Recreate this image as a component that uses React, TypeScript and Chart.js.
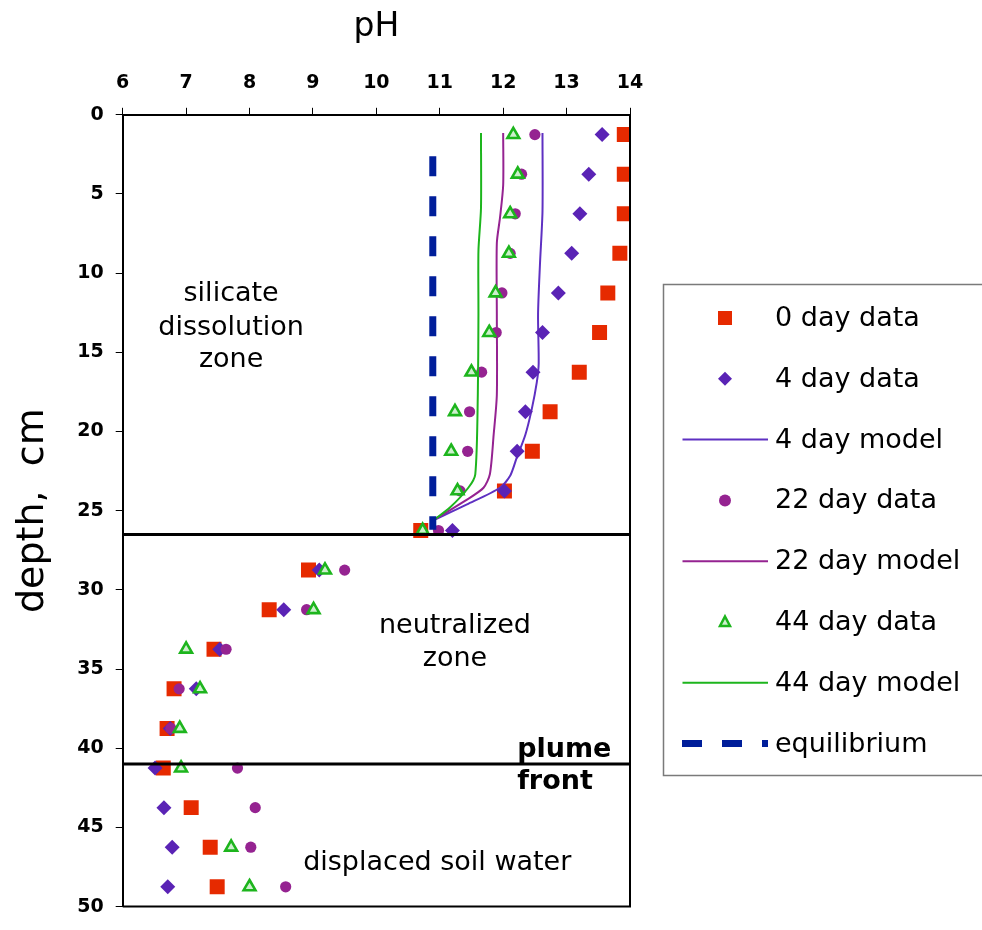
import React, { useEffect, useRef } from 'react';
import { Chart, registerables } from 'chart.js';

Chart.register(...registerables);

// ---------- data ----------
const depths = [1.25, 3.75, 6.25, 8.75, 11.25, 13.75, 16.25, 18.75, 21.25, 23.75, 26.25, 28.75, 31.25, 33.75, 36.25, 38.75, 41.25, 43.75, 46.25, 48.75];
const day0PH = [13.91, 13.91, 13.91, 13.84, 13.65, 13.52, 13.2, 12.74, 12.46, 12.02, 10.7, 8.93, 8.31, 7.44, 6.81, 6.7, 6.64, 7.08, 7.38, 7.49];
const day4PH = [13.56, 13.35, 13.21, 13.08, 12.87, 12.62, 12.47, 12.35, 12.22, 12.02, 11.2, 9.1, 8.54, 7.53, 7.16, 6.75, 6.51, 6.65, 6.78, 6.71];
const day22PH = [12.5, 12.29, 12.19, 12.11, 11.98, 11.89, 11.66, 11.47, 11.44, 11.32, 10.98, 9.5, 8.9, 7.63, 6.89, 6.76, 7.81, 8.09, 8.02, 8.57];
const day44PH: (number | null)[] = [12.16, 12.23, 12.11, 12.09, 11.88, 11.78, 11.5, 11.24, 11.18, 11.28, 10.73, 9.19, 9.01, 7.0, 7.22, 6.9, 6.92, null, 7.71, 8.0];

const model4Depth = [1.15, 6.1, 9.45, 12.6, 15.7, 16.9, 18.6, 20.2, 21.7, 22.8, 23.55, 24.6, 25.6];
const model4PH = [12.62, 12.62, 12.58, 12.55, 12.56, 12.53, 12.45, 12.35, 12.21, 12.11, 11.95, 11.43, 10.9];
const model22Depth = [1.15, 4.45, 6.5, 8.1, 12.6, 17.7, 20.2, 22.7, 23.55, 24.3, 25.6];
const model22PH = [12.0, 12.0, 11.95, 11.9, 11.9, 11.9, 11.85, 11.79, 11.69, 11.43, 10.9];
const model44Depth = [1.15, 5.9, 8.6, 12.6, 17.7, 22.7, 23.55, 24.8, 25.6];
const model44PH = [11.65, 11.65, 11.61, 11.61, 11.6, 11.56, 11.45, 11.16, 10.9];

const equilibriumDepth = [2.62, 26.2];
const equilibriumPH = [10.89, 10.89];

const boundaryDepths = [26.5, 41]; // silicate/neutralized boundary, plume front
const xRange = [6, 14];
const yRange = [0, 50];
const xStep = 1;
const yStep = 5;

const legendLabels = ['0 day data', '4 day data', '4 day model', '22 day data', '22 day model', '44 day data', '44 day model', 'equilibrium'];

// ---------- styles ----------
const FONT = '"DejaVu Sans", Verdana, sans-serif';
const RED = '#E62A00';
const PURPLE = '#5A23B5';
const PURPLE_LINE = '#5E30C2';
const MAGENTA = '#952391';
const GREEN = '#1DB51D';
const GREEN_FILL = '#CDEFCD';
const BLUE = '#001E9A';

function pts(xs: (number | null)[], ys: number[]) {
  const out: { x: number; y: number }[] = [];
  xs.forEach((x, i) => {
    if (x !== null) out.push({ x, y: ys[i] });
  });
  return out;
}

const legendPlugin = {
  id: 'customLegend',
  afterDraw(chart: any) {
    const ctx = chart.ctx as CanvasRenderingContext2D;
    ctx.save();
    ctx.strokeStyle = '#7a7a7a';
    ctx.lineWidth = 1.5;
    ctx.strokeRect(663.5, 284.5, 340, 491);
    const startY = 318;
    const step = 60.8;
    const mx = 725;
    legendLabels.forEach((label, i) => {
      const y = startY + i * step;
      ctx.save();
      if (i === 0) {
        ctx.fillStyle = RED;
        ctx.fillRect(mx - 7, y - 7, 14, 14);
      } else if (i === 1) {
        ctx.fillStyle = PURPLE;
        ctx.beginPath();
        ctx.moveTo(mx - 7, y);
        ctx.lineTo(mx, y - 7);
        ctx.lineTo(mx + 7, y);
        ctx.lineTo(mx, y + 7);
        ctx.closePath();
        ctx.fill();
      } else if (i === 3) {
        ctx.fillStyle = MAGENTA;
        ctx.beginPath();
        ctx.arc(mx, y, 6, 0, Math.PI * 2);
        ctx.fill();
      } else if (i === 5) {
        ctx.fillStyle = GREEN_FILL;
        ctx.strokeStyle = GREEN;
        ctx.lineWidth = 2.5;
        ctx.beginPath();
        ctx.moveTo(mx, y - 5.5);
        ctx.lineTo(mx + 5, y + 4);
        ctx.lineTo(mx - 5, y + 4);
        ctx.closePath();
        ctx.fill();
        ctx.stroke();
      } else if (i === 2 || i === 4 || i === 6) {
        ctx.strokeStyle = i === 2 ? PURPLE_LINE : i === 4 ? MAGENTA : GREEN;
        ctx.lineWidth = 2;
        ctx.beginPath();
        ctx.moveTo(682.5, y);
        ctx.lineTo(768, y);
        ctx.stroke();
      } else if (i === 7) {
        ctx.strokeStyle = BLUE;
        ctx.lineWidth = 7;
        ctx.setLineDash([20, 20]);
        ctx.beginPath();
        ctx.moveTo(682, y);
        ctx.lineTo(768, y);
        ctx.stroke();
      }
      ctx.restore();
      ctx.fillStyle = '#000';
      ctx.font = `27px ${FONT}`;
      ctx.textAlign = 'left';
      ctx.textBaseline = 'middle';
      ctx.fillText(label, 775, y + 1);
    });
    ctx.restore();
  },
};

const annotationPlugin = {
  id: 'annotations',
  afterDatasetsDraw(chart: any) {
    const ctx = chart.ctx as CanvasRenderingContext2D;
    const xs = chart.scales.x;
    const ys = chart.scales.y;
    const ca = chart.chartArea;
    ctx.save();
    ctx.strokeStyle = '#000';
    ctx.lineWidth = 2;
    ctx.beginPath();
    ctx.moveTo(ca.right, ca.top);
    ctx.lineTo(ca.right, ca.bottom);
    ctx.lineTo(ca.left, ca.bottom);
    ctx.stroke();

    const put = (t: string, ph: number, d: number, bold: boolean, align: CanvasTextAlign) => {
      ctx.font = `${bold ? 'bold ' : ''}27px ${FONT}`;
      ctx.fillStyle = '#000';
      ctx.textAlign = align;
      ctx.textBaseline = 'middle';
      ctx.fillText(t, xs.getPixelForValue(ph), ys.getPixelForValue(d));
    };
    put('silicate', 7.71, 11.34, false, 'center');
    put('dissolution', 7.71, 13.45, false, 'center');
    put('zone', 7.71, 15.5, false, 'center');
    put('neutralized', 11.24, 32.3, false, 'center');
    put('zone', 11.24, 34.36, false, 'center');
    put('plume', 12.22, 40.08, true, 'left');
    put('front', 12.22, 42.14, true, 'left');
    put('displaced soil water', 10.96, 47.24, false, 'center');
    ctx.restore();
  },
};

export default function App() {
  const ref = useRef<HTMLCanvasElement>(null);
  useEffect(() => {
    if (!ref.current) return;
    const hl = boundaryDepths.map((d, i) => ({
      label: 'boundary' + i,
      data: [{ x: xRange[0], y: d }, { x: xRange[1], y: d }],
      showLine: true,
      borderColor: '#000',
      borderWidth: 3,
      pointRadius: 0,
      order: 0,
    }));
    const chart = new Chart(ref.current, {
      type: 'scatter',
      data: {
        datasets: [
          ...hl,
          {
            label: 'equilibrium',
            data: pts(equilibriumPH, equilibriumDepth),
            showLine: true,
            borderColor: BLUE,
            borderWidth: 7,
            borderDash: [20, 20],
            pointRadius: 0,
            order: 1,
          },
          {
            label: '44 day data',
            data: pts(day44PH, depths),
            pointStyle: 'triangle',
            pointRadius: 6.8,
            pointBackgroundColor: GREEN_FILL,
            pointBorderColor: GREEN,
            pointBorderWidth: 2.6,
            order: 2,
          },
          {
            label: '44 day model',
            data: pts(model44PH, model44Depth),
            showLine: true,
            borderColor: GREEN,
            borderWidth: 2,
            tension: 0.25,
            pointRadius: 0,
            order: 3,
          },
          {
            label: '22 day data',
            data: pts(day22PH, depths),
            pointStyle: 'circle',
            pointRadius: 5.6,
            pointBackgroundColor: MAGENTA,
            pointBorderColor: MAGENTA,
            pointBorderWidth: 0,
            order: 4,
          },
          {
            label: '22 day model',
            data: pts(model22PH, model22Depth),
            showLine: true,
            borderColor: MAGENTA,
            borderWidth: 2,
            tension: 0.25,
            pointRadius: 0,
            order: 5,
          },
          {
            label: '4 day data',
            data: pts(day4PH, depths),
            pointStyle: 'rectRot',
            pointRadius: 7.5,
            pointBackgroundColor: PURPLE,
            pointBorderColor: PURPLE,
            pointBorderWidth: 0,
            order: 6,
          },
          {
            label: '4 day model',
            data: pts(model4PH, model4Depth),
            showLine: true,
            borderColor: PURPLE_LINE,
            borderWidth: 2,
            tension: 0.25,
            pointRadius: 0,
            order: 7,
          },
          {
            label: '0 day data',
            data: pts(day0PH, depths),
            pointStyle: 'rect',
            pointRadius: 10.6,
            pointBackgroundColor: RED,
            pointBorderColor: RED,
            pointBorderWidth: 0,
            order: 8,
          },
        ] as any,
      },
      options: {
        responsive: false,
        animation: false,
        events: [],
        layout: { padding: { left: 0, top: 0, right: 352, bottom: 11.7 } },
        plugins: { legend: { display: false }, tooltip: { enabled: false } },
        scales: {
          x: {
            type: 'linear',
            position: 'top',
            min: xRange[0],
            max: xRange[1],
            afterFit: (s: any) => { s.height = 114.8; },
            ticks: {
              stepSize: xStep,
              color: '#000',
              padding: 13,
              font: { family: FONT, size: 19, weight: 'bold' },
            },
            grid: { display: true, drawOnChartArea: false, drawTicks: true, tickLength: 7, color: '#000', lineWidth: 1 },
            border: { display: true, color: '#000', width: 2 },
            title: { display: true, text: 'pH', color: '#000', font: { family: FONT, size: 33 }, padding: { top: 8, bottom: 0 } },
          },
          y: {
            type: 'linear',
            position: 'left',
            reverse: true,
            min: yRange[0],
            max: yRange[1],
            afterFit: (s: any) => { s.width = 122.7; },
            ticks: {
              stepSize: yStep,
              color: '#000',
              padding: 12,
              font: { family: FONT, size: 19, weight: 'bold' },
            },
            grid: { display: true, drawOnChartArea: false, drawTicks: true, tickLength: 7, color: '#000', lineWidth: 1 },
            border: { display: true, color: '#000', width: 2 },
            title: { display: true, text: 'depth,  cm', color: '#000', font: { family: FONT, size: 38 }, padding: { top: 10, bottom: 0 } },
          },
        },
      } as any,
      plugins: [annotationPlugin, legendPlugin],
    });
    return () => chart.destroy();
  }, []);
  return (
    <div style={{ position: 'absolute', left: 0, top: 0, width: 982, height: 930, background: '#fff' }}>
      <canvas ref={ref} width={982} height={930} style={{ display: 'block' }} />
    </div>
  );
}
